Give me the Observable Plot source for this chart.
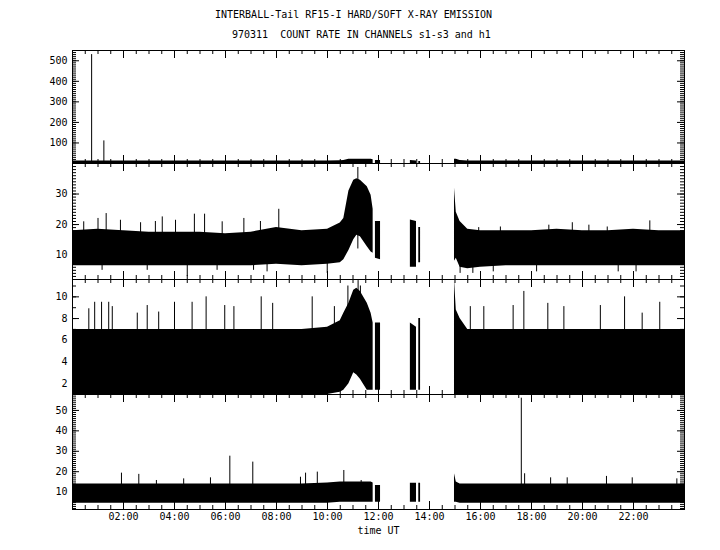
<!DOCTYPE html>
<html><head><meta charset="utf-8">
<script src="https://cdn.jsdelivr.net/npm/d3@7"></script>
<script src="https://cdn.jsdelivr.net/npm/@observablehq/plot@0.6"></script>
<style>
body{margin:0;background:#fff;}
#chart{position:relative;width:720px;height:550px;overflow:hidden;font-family:"DejaVu Sans Mono",monospace;background:#fff;}
.t{position:absolute;font-size:10px;line-height:12px;white-space:pre;color:#000;}
</style></head><body>
<div id="chart">
<div class="t" style="left:215px;top:9px">INTERBALL-Tail RF15-I HARD/SOFT X-RAY EMISSION</div>
<div class="t" style="left:232px;top:29px">970311  COUNT RATE IN CHANNELS s1-s3 and h1</div>
</div>
<script>
// time (hours UT) of envelope samples; null values mark data gaps
const T = [0,1,2,3,4,5,6,7,8,9,10,10.5,10.64,10.84,11.03,11.15,11.29,11.56,11.71,11.79,11.83,11.88,12.08,12.5,13.25,13.49,13.53,13.58,13.65,14.3,14.98,15.05,15.2,15.5,16,17,18,19,20,21,22,23,24];
const n = null;
// panel 1 envelope
const lo1 = [0,0,0,0,0,0,0,0,0,0,0,0,0,0,0,0,0,0,0,0,n,0,0,n,0,0,n,0,0,n,0,0,0,0,0,0,0,0,0,0,0,0,0];
const hi1 = [12,12,12,12,12,12,12,12,12,12,12,13,15,21,21,21,21,21,21,18,n,14,14,n,15,12,n,10,10,n,21,21,14,12,12,12,12,12,12,12,12,12,12];
// panel 2 envelope
const lo2 = [6.5,6.5,6.5,6.5,6.5,6.5,6.5,6.5,7,6.5,7,7.5,8.5,11.5,15,16.5,16,12.7,11,10.6,n,9,8.5,n,6,6,n,7.5,7.5,n,8,9,6,5.5,6,6.5,6.5,6.5,6.5,6.5,6.5,6.5,6.5];
const hi2 = [18,18.5,18,17.5,17.5,17.5,17,17.5,19,18,18.5,20.5,22,31,34.5,35,34.5,32.4,29.6,25,n,21,21,n,21.5,21,n,19,19,n,32,24,21,18.5,18,18,18,18.5,18,18,18.5,18,18];
// panel 3 envelope
const lo3 = [1,1,1,1,1,1,1,1,1,1,1,1.2,1.4,2,3,2.8,2.4,1.4,1.4,1.4,n,1.4,1.4,n,1.4,1.4,n,1.4,1.4,n,1,1,1,1,1,1,1,1,1,1,1,1,1];
const hi3 = [7,7,7,7,7,7,7,7,7,7,7.2,7.8,8.5,9.4,10.6,10.8,10.5,9.4,8.5,7.6,n,7.6,7.6,n,7.6,7.2,n,8,8,n,11.6,8.8,8,7,7,7,7,7,7,7,7,7,7];
// panel 4 envelope
const lo4 = [4.5,4.5,4.5,4.5,4.5,4.5,4.5,4.5,4.5,4.5,4.5,5,5,5,5,5,5,5,5,5,n,5,5,n,5,5,n,5,5,n,5,5,4.5,4.5,4.5,4.5,4.5,4.5,4.5,4.5,4.5,4.5,4.5];
const hi4 = [14,14,14,14,14,14,14,14,14,14,14.5,15,15,15,15,15,15,15,15,14.5,n,13.3,13.3,n,14.4,14.4,n,14.4,14.4,n,19,15,14,14,14,14,14,14,14,14,14,14,14];
// isolated spikes and dips [hour, extreme count]
const spikes1 = [[0.75,530],[1.23,110]];
const spikes2 = [[0.44,20.9],[1.0,22],[1.32,23.6],[1.88,21.4],[2.67,20.6],[3.25,21],[3.52,22.5],[4.04,21.4],[4.78,23.4],[5.18,23.4],[5.87,20.9],[6.72,22],[7.37,21],[8.09,25],[11.19,38.7],[15.35,19.2],[15.93,19],[16.78,19.2],[18.68,19.8],[19.6,20.6],[20.25,19.8],[20.97,19.2],[22.64,21.2],
  [1.16,5],[2.93,5],[4.5,3],[5.67,5],[7.1,5],[7.63,4.5],[9.99,4],[15.2,4],[15.7,4],[16.5,4.5],[18.2,4.5],[21.4,4.5],[22.1,4.5]];
const spikes3 = [[0.64,8.9],[0.87,9.5],[1.14,9.5],[1.42,9.5],[1.56,9.1],[2.54,8.5],[2.93,9.2],[3.38,8.6],[4.0,9.5],[4.69,9.5],[5.24,10],[5.97,9.2],[6.33,9.1],[7.4,10],[7.85,9.4],[9.4,10],[10.27,9.1],[10.8,11],[11.2,11.5],[11.29,11],[15.6,9.1],[16.13,9.1],[17.28,9.2],[17.7,10.5],[18.64,9.4],[19.27,9.1],[20.7,9.2],[21.65,10],[22.34,8.5],[23.03,9.5]];
const spikes4 = [[1.92,19.3],[2.6,18.7],[3.29,15.7],[4.36,16.5],[5.41,17],[6.17,27.6],[7.07,24.7],[8.94,17.3],[9.14,19.3],[9.6,19.8],[10.64,20.6],[11.32,15.7],[17.6,56],[17.73,19],[18.75,17],[19.4,17],[20.94,17.7],[21.95,17],[23.7,16.5]];
// axis ticks
const xMajor = [0,2,4,6,8,10,12,14,16,18,20,22,24];
const xMinor = d3.range(0, 24.01, 0.5);
const xLabels = [2,4,6,8,10,12,14,16,18,20,22];
const yMajor1 = [100,200,300,400,500];
const yMajor2 = [10,20,30];
const yMajor3 = [2,4,6,8,10];
const yMajor4 = [10,20,30,40,50];

const chart = document.getElementById("chart");
const W = 720, mL = 72, mR = 36, innerW = W - mL - mR;

function panel(o) {
  const data = T.map((t, i) => ({t, lo: o.lo[i], hi: o.hi[i]}));
  const minors = d3.range(Math.ceil(o.domain[0] / o.minor) * o.minor, o.domain[1] + 1e-9, o.minor);
  const H = o.innerH;
  const marks = [
    Plot.areaY(data, {x: "t", y1: "lo", y2: "hi", fill: "black"}),
    Plot.ruleX(o.spikes, {x: d => d[0], y1: () => o.base, y2: d => d[1], stroke: "black", strokeWidth: 1}),
    Plot.ruleY(o.majors, {y: d => d, insetRight: innerW - 7, stroke: "black"}),
    Plot.ruleY(minors, {y: d => d, insetRight: innerW - 4, stroke: "black"}),
    Plot.ruleY(o.majors, {y: d => d, insetLeft: innerW - 7, stroke: "black"}),
    Plot.ruleY(minors, {y: d => d, insetLeft: innerW - 4, stroke: "black"}),
    Plot.ruleX(xMajor, {x: d => d, insetBottom: H - 8, stroke: "black"}),
    Plot.ruleX(xMinor, {x: d => d, insetBottom: H - 4, stroke: "black"}),
    Plot.ruleX(xMajor, {x: d => d, insetTop: H - 8, stroke: "black"}),
    Plot.ruleX(xMinor, {x: d => d, insetTop: H - 4, stroke: "black"}),
    Plot.frame({stroke: "black"}),
    Plot.axisY(o.majors, {anchor: "left", tickSize: 0, tickPadding: 5, label: null, fill: "black"})
  ];
  if (o.last) {
    marks.push(Plot.text(xLabels, {x: d => d, text: d => String(d).padStart(2, "0") + ":00", frameAnchor: "bottom", dy: 10, fill: "black"}));
    marks.push(Plot.text(["time UT"], {text: d => d, frameAnchor: "bottom", dy: 24, fill: "black"}));
  }
  const svg = Plot.plot({
    width: W,
    height: H + (o.last ? 41 : 0),
    marginLeft: mL, marginRight: mR, marginTop: 0, marginBottom: o.last ? 41 : 0,
    x: {domain: [0, 24], axis: null},
    y: {domain: o.domain, axis: null},
    style: {background: "transparent", overflow: "visible", fontFamily: "DejaVu Sans Mono", fontSize: "10px", color: "black"},
    marks
  });
  svg.style.position = "absolute";
  svg.style.left = "0px";
  svg.style.top = o.top + "px";
  chart.appendChild(svg);
}

panel({lo: lo1, hi: hi1, spikes: spikes1, base: 5, domain: [0, 550], majors: yMajor1, minor: 10, top: 50, innerH: 113});
panel({lo: lo2, hi: hi2, spikes: spikes2, base: 12, domain: [2, 40], majors: yMajor2, minor: 1, top: 163, innerH: 116});
panel({lo: lo3, hi: hi3, spikes: spikes3, base: 4, domain: [1, 11.6], majors: yMajor3, minor: 1, top: 279, innerH: 115});
panel({lo: lo4, hi: hi4, spikes: spikes4, base: 9, domain: [1.5, 57.8], majors: yMajor4, minor: 1, top: 394, innerH: 115, last: true});
</script>
</body></html>
